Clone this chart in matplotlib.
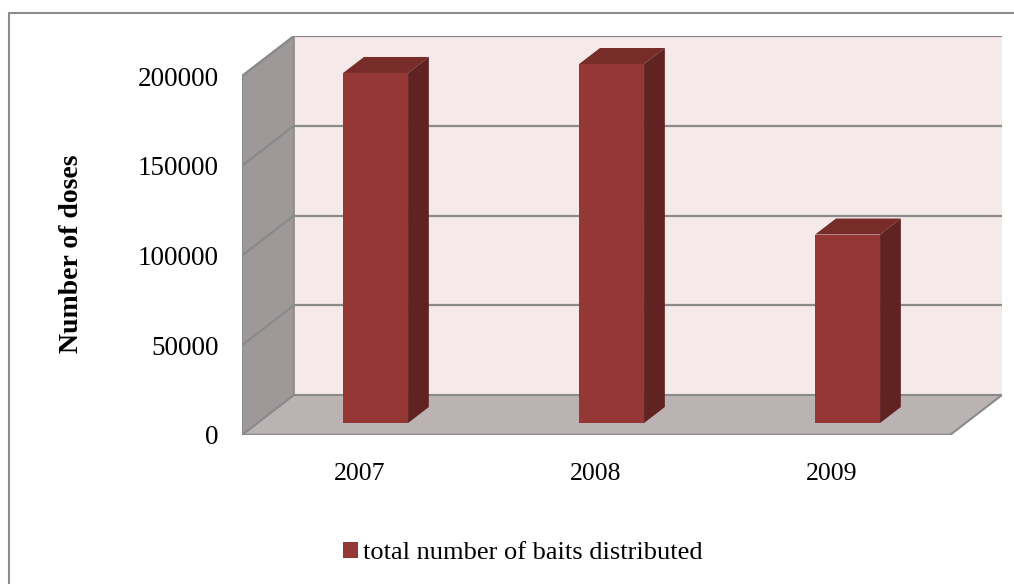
#Script for drawing the bait distribution chart as an Excel style 3D column chart

#Import useful libraries
import numpy as np
import matplotlib.pyplot as plt
from matplotlib.patches import Polygon, Patch, Rectangle

#data
years = ['2007', '2008', '2009']
doses = [195000, 200000, 105000]
y_ticks = [0, 50000, 100000, 150000, 200000]
series_name = 'total number of baits distributed'

#colours
front_col = '#953735'
top_col = '#772c2a'
side_col = '#602322'
wall_col = '#f5e9e9'
side_wall_col = '#9e9898'
floor_col = '#bbb3b3'
grid_col = '#8a8a8a'

plt.rcParams['font.family'] = ['Liberation Serif', 'DejaVu Serif']

def main():
	fig = plt.figure(figsize=(10.14, 5.84), dpi=100)
	ax = fig.add_axes([242/1014, 149/584, 760/1014, 399/584])

	ymax = y_ticks[-1]
	#depth of the 3D box in data units
	dx = 52/236
	dy = 40/89.75*50000
	x = np.arange(len(years))
	x0, x1 = -0.5, len(years) - 0.5

	#back wall, left wall and floor
	ax.add_patch(Polygon([(x0+dx, dy), (x1+dx, dy), (x1+dx, ymax+dy), (x0+dx, ymax+dy)],
		closed=True, facecolor=wall_col, edgecolor='none', zorder=1))
	ax.add_patch(Polygon([(x0, 0), (x0+dx, dy), (x0+dx, ymax+dy), (x0, ymax)],
		closed=True, facecolor=side_wall_col, edgecolor=grid_col, lw=1.2, zorder=1))
	ax.add_patch(Polygon([(x0, 0), (x1, 0), (x1+dx, dy), (x0+dx, dy)],
		closed=True, facecolor=floor_col, edgecolor=grid_col, lw=1.5, zorder=2))

	#gridlines on back and left walls
	for t in y_ticks[1:]:
		ax.plot([x0+dx, x1+dx], [t+dy, t+dy], color=grid_col, lw=1.6, zorder=1.5)
		ax.plot([x0, x0+dx], [t, t+dy], color=grid_col, lw=1.6, zorder=1.5)
	ax.plot([x0, x1], [0, 0], color=grid_col, lw=2.5, zorder=2.5)

	#bars: front face with top and side faces pushed back in depth
	d0, d1 = 0.3, 0.4
	w = 0.275
	bx = x + d0*dx
	base = d0*dy
	ax.bar(bx, doses, width=w, bottom=base, color=front_col, zorder=3)
	for xi, v in zip(bx, doses):
		l, r = xi - w/2, xi + w/2
		top = base + v
		ax.add_patch(Polygon([(l, top), (r, top), (r+d1*dx, top+d1*dy), (l+d1*dx, top+d1*dy)],
			closed=True, facecolor=top_col, edgecolor='none', zorder=3))
		ax.add_patch(Polygon([(r, base), (r, top), (r+d1*dx, top+d1*dy), (r+d1*dx, base+d1*dy)],
			closed=True, facecolor=side_col, edgecolor='none', zorder=3))

	ax.set_xlim(x0, x1 + dx)
	ax.set_ylim(0, ymax + dy)
	ax.set_yticks(y_ticks)
	ax.set_yticklabels([str(t) for t in y_ticks], fontsize=19.5)
	ax.set_xticks(x)
	ax.set_xticklabels(years, fontsize=18.5)
	ax.tick_params(length=0)
	ax.tick_params(axis='y', pad=17)
	ax.tick_params(axis='x', pad=20)
	for s in ax.spines.values():
		s.set_visible(False)
	ax.set_facecolor('none')

	fig.text(71/1014, 1-254/584, 'Number of doses', rotation=90, fontsize=20,
		fontweight='bold', ha='center', va='center')

	fig.legend(handles=[Patch(facecolor=front_col, label=series_name)], loc='center',
		bbox_to_anchor=(523/1014, 1-553/584), frameon=False, fontsize=19,
		handlelength=0.55, handleheight=0.55, handletextpad=0.2)

	#outer chart border
	fig.patches.append(Rectangle((9/1014, -0.1), 1.1, 1-13/584+0.1, transform=fig.transFigure,
		fill=False, edgecolor='#8c8c8c', lw=1.5))

	fig.savefig('out.png', dpi=100)

main()
